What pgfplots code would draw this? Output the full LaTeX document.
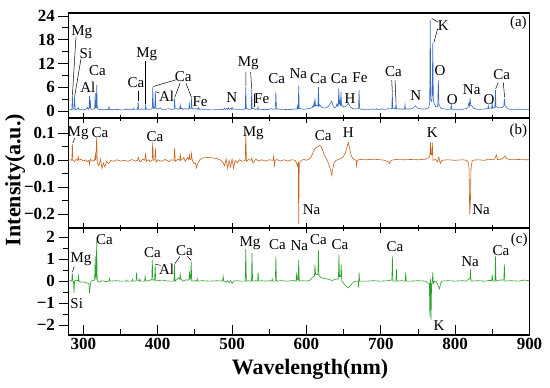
\documentclass[border=0pt]{standalone}
\usepackage{fontspec}
\setmainfont{Liberation Serif}
\usepackage{pgfplots}
\pgfplotsset{compat=1.18}
\definecolor{cA}{RGB}{55,105,195}
\definecolor{cB}{RGB}{200,98,28}
\definecolor{cC}{RGB}{44,160,44}
\newcommand{\B}[1]{\textbf{#1}}
\pgfplotsset{
  panel/.style={
    scale only axis, width=461pt, xmin=280, xmax=900,
    axis line style={line width=1.1pt},
    xtick={300,400,...,900}, minor x tick num=1,
    ytick pos=left, xtick pos=left,
    xtick align=center, ytick align=outside,
    major tick length=10pt, minor tick length=6pt,
    every tick/.style={black, line width=0.9pt},
    tick label style={font=\bfseries\fontsize{17}{17}\selectfont},
    /pgf/number format/assume math mode=true,
    clip=false, anchor=south west,
  },
}
\tikzset{
  lab/.style={font=\fontsize{15}{15}\selectfont, inner sep=0pt},
  ann/.style={black, line width=0.5pt},
}
\begin{document}
\begin{tikzpicture}
\path[use as bounding box] (0pt,0pt) rectangle (550pt,388pt);
% ---------- panel (a)
\begin{axis}[panel, at={(68.5pt,270pt)}, height=105pt, ymin=-1.77, ymax=24.76,
  ytick={0,6,12,18,24}, yticklabels={\B{0},\B{6},\B{12},\B{18},\B{24}}, minor y tick num=1, xticklabels={}]
\addplot[cA, line width=0.6pt] coordinates {(280,0.3)(283,0.3)(284.5,0.4)(285.2,4.0)(285.9,0.5)(287.4,0.5)(288.2,3.6)(289,0.4)(291,0.3)(293,0.9)(294,0.3)(297,0.35)(300,0.3)(303,0.4)(305.8,0.9)(306.5,0.4)(307.6,0.6)(308.2,3.8)(308.8,0.8)(309.3,2.8)(310,0.5)(312,0.4)(315.2,0.6)(315.9,4.5)(316.6,0.8)(317.3,0.9)(318,6.6)(318.7,0.6)(321,0.4)(326,0.3)(330,0.35)(333.8,0.4)(334.5,1.1)(335.3,0.4)(340,0.3)(345,0.4)(350,0.3)(355,0.3)(358,0.5)(360,0.3)(363,0.4)(366.4,0.4)(367,0.7)(367.6,0.4)(371,0.5)(373,0.4)(373.7,2.3)(374.4,0.4)(377,0.4)(378,0.6)(380,0.4)(383.1,0.4)(383.8,1.6)(384.5,0.4)(386,0.5)(389,0.4)(392.7,0.6)(393.4,6.1)(394.1,0.7)(395,1.0)(396.1,0.7)(396.8,4.9)(397.5,0.6)(400,0.5)(404,0.8)(405,0.4)(410,0.4)(415,0.6)(418,0.4)(422,0.5)(422.7,3.2)(423.4,0.5)(426,0.6)(428,0.4)(429.6,0.6)(430.3,1.5)(431,0.6)(432,0.8)(434,0.4)(436,0.6)(438,0.5)(441.8,0.5)(442.5,1.8)(443.2,0.6)(444.8,0.6)(445.5,3.2)(446.2,0.7)(448,0.5)(452,0.6)(454,0.4)(455,0.9)(456,0.4)(458,0.5)(462,0.3)(465,0.35)(470,0.3)(475,0.3)(480,0.35)(484,0.3)(486,0.5)(488,0.3)(490,0.7)(491,0.4)(493,0.6)(494,0.4)(495,0.8)(496,0.4)(498,0.6)(499,0.4)(500,0.9)(501,0.4)(503,0.5)(508,0.4)(513,0.4)(517.7,0.5)(518.4,6.1)(519.1,0.6)(520,0.6)(522,0.4)(525.7,0.5)(526.4,5.3)(527.1,0.6)(529,0.7)(531,0.4)(533,0.5)(534.4,0.4)(535,1.0)(535.6,0.4)(540,0.4)(545,0.35)(550,0.4)(553,0.6)(555,0.4)(558.2,0.5)(558.9,4.9)(559.6,0.5)(562,0.5)(566,0.4)(570,0.4)(575,0.35)(580,0.4)(585,0.5)(587.4,0.5)(588,1.3)(588.6,0.6)(589,0.6)(589.6,6.4)(590.3,0.6)(592,0.6)(596,0.45)(600,0.5)(605,0.7)(607,0.8)(608,1.2)(609,0.9)(610.3,2.0)(610.9,1.2)(611.5,3.2)(612.2,1.3)(613,1.5)(615.5,1.2)(616.2,6.0)(616.9,1.3)(618,1.5)(620,1.0)(623,0.8)(626,0.8)(629,1.1)(631,1.5)(633,2.2)(634,2.5)(635,1.8)(636,1.2)(638,0.8)(640,1.0)(641,1.8)(642,1.2)(642.8,1.4)(643.5,5.7)(644.2,1.6)(645,2.5)(645.8,1.6)(646.5,4.8)(647.2,1.4)(648,1.4)(650,1.0)(652,1.1)(654,1.4)(655.5,1.7)(656.5,1.9)(657.5,1.6)(659,1.0)(662,0.6)(666,0.5)(670.1,0.6)(670.8,5.3)(671.5,0.6)(674,0.45)(680,0.4)(685,0.4)(690,0.5)(693.8,0.4)(694.5,0.6)(695.2,0.4)(700,0.45)(702,0.6)(704,0.4)(708,0.5)(710,0.6)(712,0.5)(714.8,0.6)(715.5,4.5)(716.2,0.6)(717,0.7)(719.8,0.6)(720.5,1.9)(721.2,0.5)(724,0.5)(728,0.5)(731.9,0.5)(732.6,1.6)(733.3,0.5)(736,0.5)(740,0.5)(743,0.7)(744.5,0.9)(746.5,1.3)(748,1.0)(750,0.7)(755,0.5)(760,0.5)(763,0.7)(764.5,0.9)(765.8,2.0)(766.5,23.0)(767.3,3.0)(768,2.5)(769.1,3.0)(769.9,17.1)(770.7,2.5)(771.5,2.0)(774,1.0)(776.6,1.2)(777.4,7.8)(778.2,1.5)(779,1.5)(780,0.9)(782,0.6)(786,0.5)(790,0.4)(794.1,0.5)(794.8,1.6)(795.5,0.5)(797,0.4)(800,0.4)(805,0.4)(810,0.45)(815,0.6)(817,0.8)(818.5,2.0)(819.3,1.3)(820.2,3.2)(821,1.4)(822,1.4)(825,0.7)(830,0.4)(835,0.45)(840,0.5)(843.9,0.6)(844.6,1.3)(845.3,0.6)(847,0.8)(849.1,0.7)(849.8,2.0)(850.5,0.7)(851,0.8)(853.5,0.9)(854.2,5.3)(854.9,1.0)(856,1.0)(858,0.8)(860,0.8)(863,0.9)(865.5,1.2)(866.2,3.2)(866.9,1.3)(868,1.2)(870,0.7)(872,0.5)(876,0.4)(880,0.4)(885,0.45)(890,0.4)(895,0.4)(900,0.4)};
\node[lab] at (axis cs:297.8,20.0) {Mg};
\draw[ann] (axis cs:290,18.6) -- (axis cs:285.3,4.1);
\node[lab] at (axis cs:303.5,14.6) {Si};
\draw[ann] (axis cs:296.8,13.2) -- (axis cs:288.3,3.7);
\node[lab] at (axis cs:306,6.0) {Al};
\node[lab] at (axis cs:318.8,10.1) {Ca};
\node[lab] at (axis cs:370.8,7.2) {Ca};
\draw[ann] (axis cs:373.8,5.0) -- (axis cs:373.8,2.4);
\node[lab] at (axis cs:385.2,14.3) {Mg};
\draw[ann] (axis cs:383.8,12.6) -- (axis cs:383.8,1.8);
\node[lab] at (axis cs:434.4,8.8) {Ca};
\draw[ann] (axis cs:425,7.9) -- (axis cs:394,6.2);
\draw[ann] (axis cs:430,7.0) -- (axis cs:422.8,3.4);
\draw[ann] (axis cs:438,7.0) -- (axis cs:445.5,3.4);
\node[lab] at (axis cs:412,3.6) {Al};
\draw[ann] (axis cs:397.2,4.9) -- (axis cs:402.5,4.5);
\node[lab] at (axis cs:456.9,2.4) {Fe};
\node[lab] at (axis cs:499.5,3.5) {N};
\node[lab] at (axis cs:521.8,12.0) {Mg};
\draw[ann] (axis cs:518.7,9.8) -- (axis cs:518.4,6.3);
\draw[ann] (axis cs:525,9.8) -- (axis cs:526.4,5.5);
\node[lab] at (axis cs:539.8,3.0) {Fe};
\draw[ann] (axis cs:529.5,4.3) -- (axis cs:529.5,1.0);
\node[lab] at (axis cs:560,8.3) {Ca};
\node[lab] at (axis cs:589,9.5) {Na};
\node[lab] at (axis cs:616,8.3) {Ca};
\node[lab] at (axis cs:644.2,8.3) {Ca};
\node[lab] at (axis cs:658.6,3.2) {H};
\node[lab] at (axis cs:672,8.3) {Fe};
\node[lab] at (axis cs:716.9,9.9) {Ca};
\draw[ann] (axis cs:714.7,7.8) -- (axis cs:715.5,4.7);
\draw[ann] (axis cs:719.2,7.8) -- (axis cs:720.5,2.1);
\node[lab] at (axis cs:747,3.8) {N};
\node[lab] at (axis cs:784,21.7) {K};
\draw[ann] (axis cs:777.4,22.4) -- (axis cs:768.5,23.4);
\draw[ann] (axis cs:776.6,20.8) -- (axis cs:771.3,17.3);
\node[lab] at (axis cs:779.7,10.2) {O};
\node[lab] at (axis cs:796,3.0) {O};
\node[lab] at (axis cs:822.3,5.3) {Na};
\node[lab] at (axis cs:845.6,3.0) {O};
\node[lab] at (axis cs:862.6,9.1) {Ca};
\draw[ann] (axis cs:858,7.2) -- (axis cs:854.5,5.6);
\draw[ann] (axis cs:864.8,7.2) -- (axis cs:866.5,3.5);
\node[lab] at (axis cs:885,22.2) {(a)};
\end{axis}
% ---------- panel (b)
\begin{axis}[panel, at={(68.5pt,160pt)}, height=110pt, ymin=-0.2507, ymax=0.1567,
  ytick={-0.2,-0.1,0,0.1}, yticklabels={\B{−0.2},\B{−0.1},\B{0.0},\B{0.1}}, minor y tick num=1, xticklabels={}]
\addplot[cB, line width=0.6pt] coordinates {(280,0.0)(283,0.002)(284.5,0.0)(285.2,0.06)(286,0.0)(288,-0.005)(290,0.003)(292.4,0.0)(293,0.015)(294,0.0)(297,0.004)(300,-0.003)(303,0.002)(305,-0.005)(307.4,0.0)(308,-0.015)(309.5,0.004)(312,-0.003)(315.2,0.0)(315.9,0.02)(316.8,0.0)(317.9,0.084)(318.8,-0.01)(321,-0.02)(323,0.005)(325,-0.03)(327,-0.01)(329,-0.025)(331,-0.005)(334,-0.012)(337,0.0)(340,-0.004)(345,0.002)(350,-0.003)(355,0.0)(360,-0.004)(365,0.003)(370,-0.003)(373,0.0)(373.7,0.012)(376,-0.006)(380,0.004)(382.8,0.0)(383.5,0.022)(385,-0.004)(388,0.002)(390,-0.005)(392.5,0.0)(393.2,0.066)(394.2,0.0)(396.1,0.002)(396.8,0.045)(397.8,-0.008)(400,0.002)(405,-0.004)(410,0.003)(415,-0.005)(418,0.002)(422,0.0)(422.7,0.045)(423.6,-0.004)(427,0.004)(429.6,0.0)(430.3,0.025)(431.2,0.0)(433,0.004)(435,0.01)(437,-0.004)(440,0.01)(441.8,0.003)(442.5,0.02)(443.5,0.003)(444.8,0.004)(445.5,0.025)(446.5,0.0)(449,-0.012)(451,-0.012)(452,-0.028)(454,-0.01)(457,0.003)(460,0.008)(465,0.01)(470,0.011)(475,0.008)(480,0.006)(485,0.0)(488,-0.01)(490,-0.02)(492,0.005)(494,-0.03)(496,0.0)(498,-0.025)(500,0.004)(502,-0.03)(504,0.0)(507,-0.01)(510,0.002)(514,-0.004)(517.7,0.0)(518.4,0.103)(519.3,-0.004)(522,0.003)(525.7,0.0)(526.4,0.008)(528,-0.01)(532,0.004)(536,-0.003)(540,0.002)(545,-0.003)(550,0.002)(555,0.0)(556,0.015)(557,-0.02)(558,0.0)(560,0.003)(565,-0.003)(570,0.002)(575,-0.003)(580,0.002)(585,0.0)(588,-0.02)(589,-0.005)(589.6,-0.235)(590.4,-0.01)(593,0.0)(597,0.003)(600,0.0)(603,0.004)(606,0.01)(609,0.03)(612,0.045)(615,0.05)(618,0.055)(620,0.05)(622,0.035)(624,0.02)(626,0.01)(628,0.0)(630,-0.015)(632,-0.03)(634,-0.055)(635.5,-0.03)(637,-0.01)(640,0.0)(643,0.003)(646,0.006)(649,0.012)(652,0.025)(654,0.045)(656.3,0.066)(658,0.045)(660,0.02)(662,0.008)(665,0.002)(666.8,0.0)(667.5,-0.02)(668.3,0.0)(672,0.003)(680,0.002)(690,0.004)(700,0.002)(705,0.0)(710,-0.005)(712,-0.012)(714,0.0)(720,0.003)(730,0.002)(740,0.003)(750,0.002)(760,0.004)(765,0.01)(766.1,0.02)(766.8,0.066)(767.6,0.02)(768.6,0.02)(769.3,0.066)(770.2,0.0)(774,0.003)(776,-0.006)(778,0.012)(780,-0.012)(782,0.0)(790,0.002)(800,0.0)(810,0.002)(815,0.0)(818,-0.01)(818.7,-0.03)(819.6,-0.2)(820.5,-0.16)(821.3,-0.03)(823,0.0)(830,0.002)(840,0.0)(845,0.004)(850,0.002)(853,0.005)(855.5,0.02)(857,0.003)(862,0.004)(865,0.01)(867,0.016)(869,0.006)(875,0.002)(885,0.003)(895,0.002)(900,0.002)};
\node[lab] at (axis cs:293,0.101) {Mg};
\draw[ann] (axis cs:288.7,0.083) -- (axis cs:285.6,0.064);
\node[lab] at (axis cs:322.4,0.101) {Ca};
\node[lab] at (axis cs:396.3,0.089) {Ca};
\node[lab] at (axis cs:528.5,0.101) {Mg};
\node[lab] at (axis cs:607,-0.181) {Na};
\node[lab] at (axis cs:622.7,0.09) {Ca};
\node[lab] at (axis cs:656.4,0.103) {H};
\node[lab] at (axis cs:769.3,0.103) {K};
\node[lab] at (axis cs:834.8,-0.181) {Na};
\node[lab] at (axis cs:885,0.109) {(b)};
\end{axis}
% ---------- panel (c)
\begin{axis}[panel, at={(68.5pt,53pt)}, height=107pt, ymin=-2.457, ymax=2.425,
  xtick align=inside, xticklabels={\B{300},\B{400},\B{500},\B{600},\B{700},\B{800},\B{900}},
  ytick={-2,-1,0,1,2}, yticklabels={\B{−2},\B{−1},\B{0},\B{1},\B{2}}, minor y tick num=1]
\addplot[cC, line width=0.6pt] coordinates {(280,0.0)(283,0.02)(284.4,0.0)(285.1,0.37)(285.9,0.0)(286.7,0.0)(287.4,-0.54)(288.2,0.0)(290,0.05)(292.7,0.0)(293.4,0.25)(294.2,0.0)(297,-0.05)(300,-0.03)(303,-0.06)(306,-0.1)(307.5,-0.1)(308.2,-0.55)(309.3,-0.2)(310.5,0.0)(313,0.03)(315.2,0.05)(315.9,1.13)(316.8,0.1)(317.2,0.1)(317.9,1.82)(318.7,0.0)(322,-0.05)(325,0.02)(330,-0.02)(334.3,0.0)(335,0.12)(335.8,0.0)(345,0.02)(350,0.0)(357.3,0.0)(358,0.05)(359,0.0)(365.3,0.0)(366,0.08)(367,0.0)(370.8,0.0)(371.5,0.38)(372.3,0.05)(375.3,0.0)(376,0.1)(377,0.0)(382.3,0.0)(383,0.22)(383.8,0.0)(390,0.05)(392,0.05)(392.7,0.98)(393.5,0.05)(395.8,0.05)(396.5,0.75)(397.3,0.0)(400,0.02)(406,0.05)(410,0.02)(416,0.0)(421.8,0.0)(422.5,0.75)(423.3,0.0)(428,0.15)(429.6,0.1)(430.3,0.3)(431,0.1)(434,0.0)(437,0.05)(442,0.05)(442.7,0.45)(443.5,0.1)(444.3,0.1)(445,0.9)(445.8,0.0)(450,0.02)(452.3,0.0)(453,0.12)(453.8,0.0)(460,0.02)(470,0.0)(480,0.02)(487.3,0.0)(488,0.22)(488.8,0.0)(492,-0.05)(494,0.03)(496,-0.08)(498,0.02)(500,-0.1)(502,0.0)(506,0.02)(512,0.0)(517.7,0.0)(518.4,1.47)(519.2,0.0)(522,0.02)(526.1,0.0)(526.8,1.29)(527.6,0.0)(532,0.02)(534.3,0.0)(535,0.4)(535.8,0.0)(540,0.02)(545,0.0)(550,0.02)(553.3,0.0)(554,0.1)(554.8,0.0)(558.2,0.0)(558.9,1.13)(559.7,0.0)(566,0.02)(575,0.0)(582,0.03)(586.2,0.0)(586.9,0.4)(587.7,0.05)(588.9,0.05)(589.6,0.98)(590.4,0.0)(595,0.02)(600,0.0)(605,0.05)(609,0.2)(610.8,0.25)(611.5,0.75)(612.3,0.3)(615.4,0.3)(616.1,1.44)(616.9,0.25)(620,0.15)(625,0.12)(630,0.08)(635,0.03)(640,0.1)(643,0.1)(643.7,1.21)(644.5,0.2)(646.1,0.2)(646.8,0.75)(647.6,0.0)(650,-0.1)(653,-0.22)(656.4,-0.31)(660,-0.15)(663,-0.05)(667,0.0)(669.5,0.0)(670.2,-0.3)(670.8,0.4)(671.6,0.0)(680,0.0)(690,0.02)(700,0.0)(710,0.02)(714,0.05)(714.9,0.05)(715.6,1.13)(716.4,0.0)(720.3,0.0)(721,0.55)(721.8,0.0)(728,0.02)(732.8,0.0)(733.5,0.4)(734.3,0.0)(740,0.0)(750,0.02)(760,0.0)(764,-0.1)(765.3,-0.1)(766,-1.61)(766.6,0.1)(767.1,0.0)(767.6,-1.76)(768.3,-0.2)(769.3,0.0)(769.9,0.4)(770.6,-0.1)(772,0.0)(775,-0.05)(777,-0.2)(779,-0.35)(780.5,-0.1)(782,0.0)(790,0.02)(800,0.0)(810,0.02)(815,0.0)(818.5,0.1)(819.9,0.1)(820.6,0.53)(821.4,0.0)(830,0.02)(840,0.0)(846,0.03)(849.1,0.03)(849.8,0.3)(850.6,0.0)(853.5,0.0)(854.2,1.13)(855,0.0)(860,0.05)(865.5,0.05)(866.2,0.77)(867,0.0)(875,0.02)(885,0.0)(893,0.05)(900,0.02)};
\node[lab] at (axis cs:296.8,1.0) {Mg};
\draw[ann] (axis cs:287.6,0.67) -- (axis cs:285.4,0.42);
\node[lab] at (axis cs:291,-1.03) {Si};
\node[lab] at (axis cs:328.2,1.9) {Ca};
\node[lab] at (axis cs:392.8,1.32) {Ca};
\node[lab] at (axis cs:412,0.53) {Al};
\draw[ann] (axis cs:397,0.77) -- (axis cs:404,0.72);
\node[lab] at (axis cs:435.8,1.41) {Ca};
\draw[ann] (axis cs:430,1.13) -- (axis cs:423,0.8);
\draw[ann] (axis cs:439.8,1.13) -- (axis cs:444.8,0.95);
\node[lab] at (axis cs:524.2,1.72) {Mg};
\node[lab] at (axis cs:560.9,1.67) {Ca};
\node[lab] at (axis cs:590.4,1.62) {Na};
\node[lab] at (axis cs:616,1.9) {Ca};
\node[lab] at (axis cs:645.2,1.67) {Ca};
\node[lab] at (axis cs:719.2,1.59) {Ca};
\node[lab] at (axis cs:778.3,-2.04) {K};
\node[lab] at (axis cs:820,0.9) {Na};
\node[lab] at (axis cs:861.7,1.41) {Ca};
\node[lab] at (axis cs:886.3,1.86) {(c)};
\end{axis}
\node[rotate=90, font=\bfseries\fontsize{22}{22}\selectfont] at (15pt,208pt) {Intensity(a.u.)};
\node[font=\bfseries\fontsize{22}{22}\selectfont] at (310pt,19pt) {Wavelength(nm)};
\end{tikzpicture}
\end{document}
